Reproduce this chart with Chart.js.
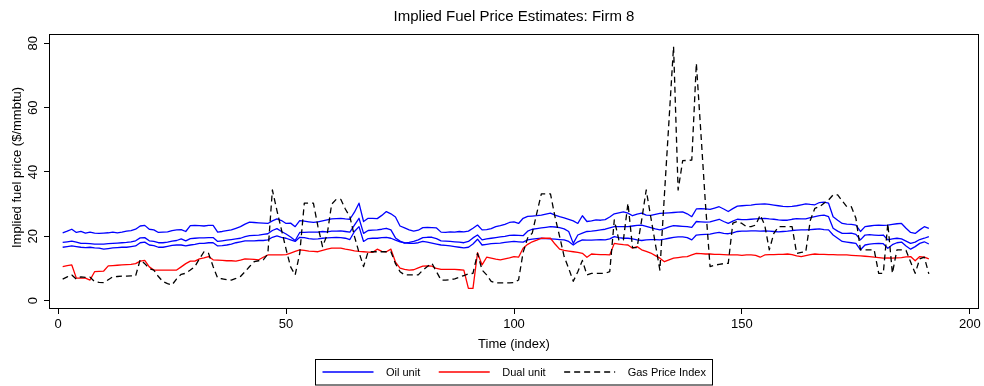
<!DOCTYPE html>
<html>
<head>
<meta charset="utf-8">
<title>Implied Fuel Price Estimates: Firm 8</title>
<script src="https://cdn.jsdelivr.net/npm/chart.js@4.4.1/dist/chart.umd.min.js"></script>
<style>
  html, body { margin: 0; padding: 0; background: #ffffff; }
  #wrap { width: 984px; height: 386px; position: relative; }
</style>
</head>
<body>
<div id="wrap"><canvas id="fuelChart" width="984" height="386"></canvas></div>
<script>
// ---- data -------------------------------------------------------------
const timeIndex = Array.from({ length: 191 }, (_, k) => k + 1);

// three oil-unit estimates (upper, middle, lower)
const oilUnitUpper = [
  21.1, 21.6, 22.2, 21.2, 21.5, 21.0, 21.3, 21.0, 20.9, 21.0,
  21.1, 21.3, 21.1, 21.3, 21.6, 21.8, 22.2, 23.2, 23.4, 22.2,
  22.0, 21.2, 21.3, 21.4, 21.8, 22.0, 22.1, 21.5, 23.3, 23.4,
  23.3, 23.2, 23.4, 23.4, 21.3, 21.5, 21.8, 22.0, 22.5, 23.0,
  23.8, 24.4, 24.3, 24.2, 24.1, 24.0, 24.8, 25.4, 24.9, 24.0,
  24.1, 23.0, 24.9, 24.7, 24.5, 24.3, 24.5, 24.8, 25.1, 25.4,
  25.5, 25.6, 25.4, 25.3, 27.5, 30.3, 24.6, 25.6, 25.6, 25.5,
  26.5, 27.7, 27.0, 26.0, 23.2, 22.6, 22.0, 21.6, 21.9, 22.7,
  22.8, 22.7, 22.6, 21.3, 21.2, 21.4, 21.3, 21.5, 21.4, 21.6,
  22.5, 23.5, 22.0, 22.1, 22.4, 23.0, 23.3, 23.7, 24.3, 24.5,
  24.0, 25.6, 26.2, 26.3, 26.4, 26.6, 26.9, 27.2, 26.6, 26.1,
  25.7, 25.3, 24.8, 24.0, 26.4, 24.6, 24.8, 25.1, 25.0, 25.2,
  26.0, 27.0, 27.3, 27.6, 27.2, 26.4, 26.9, 27.2, 26.6, 26.5,
  26.8, 27.1, 27.2, 27.3, 27.4, 27.5, 27.6, 27.0, 26.1, 28.5,
  28.6, 28.5, 28.4, 28.8, 29.2, 28.5, 27.7, 28.6, 29.4, 29.5,
  29.6, 29.7, 29.9, 30.0, 30.1, 29.9, 29.7, 29.5, 29.3, 29.2,
  29.3, 29.5, 29.8, 30.1, 29.9, 29.8, 30.5, 30.6, 30.3, 26.1,
  25.0, 24.0, 23.8, 23.7, 23.5, 21.5, 23.0, 23.2, 23.4, 23.5,
  23.4, 23.5, 23.7, 23.9, 24.0, 22.5, 21.2, 20.9, 22.0, 23.0, 22.5
];
const oilUnitMiddle = [
  18.1, 18.3, 18.5, 18.2, 17.8, 17.8, 17.7, 17.6, 17.6, 17.6,
  17.7, 17.8, 17.9, 18.0, 18.1, 18.3, 18.6, 19.5, 19.6, 18.6,
  18.4, 18.0, 18.0, 18.2, 18.5, 18.7, 19.2, 18.6, 19.3, 19.4,
  19.5, 19.5, 19.6, 19.6, 18.4, 18.6, 18.8, 19.0, 19.2, 19.4,
  19.9, 20.2, 20.3, 20.4, 20.6, 20.8, 21.8, 22.4, 21.5, 20.7,
  19.8, 18.7, 21.2, 21.2, 21.3, 21.3, 21.3, 21.5, 21.4, 21.6,
  21.6, 21.7, 21.5, 21.3, 23.5, 25.6, 20.9, 21.8, 21.9, 22.0,
  22.2, 22.5, 22.0, 19.5, 18.5, 17.9, 18.1, 18.4, 18.9, 19.6,
  19.7, 19.7, 19.3, 18.6, 18.5, 18.4, 18.3, 18.2, 18.0, 18.4,
  19.5, 20.4, 18.9, 19.2, 19.4, 19.6, 19.8, 20.0, 20.3, 20.4,
  20.3, 20.2, 21.6, 22.2, 22.4, 22.6, 22.8, 23.0, 22.9, 22.7,
  22.3, 21.5, 17.8, 20.4, 21.0, 21.5, 21.6, 21.8, 22.0, 22.2,
  22.6, 23.0, 23.0, 23.0, 23.0, 23.2, 23.4, 23.5, 23.1, 22.7,
  22.3, 22.0, 22.4, 22.9, 23.3, 23.2, 23.1, 23.0, 22.8, 24.6,
  24.5, 24.4, 24.5, 24.9, 25.3, 24.6, 24.0, 24.7, 25.3, 25.2,
  25.2, 25.3, 25.4, 25.5, 25.6, 25.4, 25.3, 25.1, 25.0, 25.0,
  25.3, 25.5, 25.4, 25.4, 25.8, 26.1, 26.4, 26.6, 26.1, 22.5,
  21.6, 20.9, 20.9, 21.0, 20.6, 18.9, 20.4, 20.5, 20.4, 20.3,
  20.4, 18.9, 19.2, 19.4, 19.2, 18.5, 17.8, 18.2, 19.0, 19.4, 19.9
];
const oilUnitLower = [
  16.6, 16.8, 17.0, 16.8, 16.6, 16.5, 16.6, 16.4, 16.3, 16.0,
  16.2, 16.4, 16.5, 16.6, 16.6, 16.8, 17.0, 18.0, 18.2, 17.3,
  17.1, 16.6, 16.6, 16.9, 17.2, 17.3, 17.3, 17.0, 17.3, 17.5,
  17.8, 17.8, 18.0, 18.0, 17.0, 17.1, 17.3, 17.6, 18.0, 18.3,
  18.6, 18.6, 18.6, 18.7, 18.7, 18.9, 19.7, 20.1, 19.7, 19.4,
  18.9, 18.4, 19.7, 19.6, 19.3, 19.1, 19.2, 19.4, 19.5, 19.6,
  19.7, 19.6, 19.4, 19.0, 21.5, 23.0, 18.4, 19.3, 19.4, 19.4,
  19.6, 19.7, 19.4, 18.8, 18.3, 18.0, 17.8, 17.8, 18.0, 18.4,
  18.2, 17.9, 17.6, 17.3, 17.2, 17.0, 16.8, 16.6, 16.4, 16.6,
  17.6, 19.1, 17.3, 17.5, 17.7, 17.8, 17.9, 18.1, 18.3, 18.4,
  18.3, 18.2, 18.9, 19.1, 19.3, 19.4, 19.3, 19.2, 19.1, 19.0,
  18.9, 18.4, 17.3, 18.3, 18.9, 18.8, 18.8, 18.9, 19.0, 18.9,
  19.2, 19.9, 19.6, 19.4, 19.4, 19.2, 18.9, 18.7, 18.9, 19.0,
  19.0, 18.9, 19.1, 19.4, 19.7, 19.8, 19.8, 19.6, 18.9, 20.4,
  20.5, 20.6, 20.7, 21.0, 21.2, 20.9, 20.8, 21.1, 21.5, 21.6,
  21.6, 21.7, 21.7, 21.6, 21.7, 21.6, 21.5, 21.4, 21.5, 21.6,
  21.8, 21.9, 22.0, 22.0, 22.1, 22.2, 22.3, 22.1, 22.0, 20.4,
  19.4, 18.4, 18.2, 18.0, 17.8, 15.8, 17.3, 17.6, 17.7, 17.8,
  17.7, 16.3, 17.4, 18.0, 18.2, 17.0, 16.0, 16.8, 17.8, 18.3, 17.6
];
const dualUnit = [
  10.6, 10.9, 11.1, 7.0, 7.0, 7.0, 6.4, 9.0, 9.1, 9.2,
  10.8, 10.9, 11.0, 11.1, 11.2, 11.3, 11.5, 12.3, 12.5, 10.5,
  9.5, 9.5, 9.5, 9.5, 9.5, 9.5, 10.5, 11.5, 12.3, 12.3,
  13.0, 13.3, 13.7, 12.7, 12.6, 12.5, 12.4, 12.4, 12.3, 12.6,
  13.0, 12.9, 12.8, 12.7, 13.5, 14.2, 14.2, 14.2, 14.2, 14.3,
  14.8, 15.3, 15.8, 15.6, 15.4, 15.3, 15.2, 15.6, 16.0, 16.3,
  16.3, 16.3, 16.0, 15.8, 15.5, 15.3, 15.2, 15.1, 15.0, 16.0,
  15.3, 15.2, 16.0, 12.0, 10.1, 9.7, 9.5, 9.6, 10.2, 10.7,
  10.8, 10.7, 10.0, 9.7, 9.7, 9.7, 9.7, 9.6, 9.5, 3.8,
  3.8, 14.9, 11.1, 13.5, 13.2, 12.9, 12.7, 13.0, 13.3, 13.7,
  13.5, 16.3, 17.5, 18.3, 18.8, 19.4, 19.4, 19.4, 17.6, 16.0,
  15.6, 15.4, 15.2, 15.0, 14.7, 13.5, 14.5, 14.4, 14.3, 14.3,
  14.2, 17.8, 17.6, 17.4, 17.3, 16.3, 16.8, 15.8, 15.3, 14.8,
  14.0, 13.2, 12.1, 12.7, 13.2, 13.4, 13.6, 13.7, 14.2, 14.7,
  14.6, 14.5, 14.5, 14.4, 14.4, 14.3, 14.2, 14.2, 14.2, 14.1,
  14.2, 14.2, 14.1, 13.5, 14.2, 14.3, 14.3, 14.4, 14.4, 14.5,
  14.3, 13.9, 13.7, 14.0, 14.3, 14.5, 14.4, 14.4, 14.3, 14.3,
  14.2, 14.2, 14.2, 14.1, 14.0, 13.9, 13.8, 13.7, 13.5, 13.4,
  13.2, 13.3, 13.2, 13.3, 13.4, 13.6, 13.7, 12.4, 13.7, 13.5, 13.0
];
const gasPriceIndex = [
  6.7, 7.4, 8.0, 6.7, 7.4, 7.2, 7.3, 5.9, 5.7, 5.6,
  6.5, 7.4, 7.5, 7.6, 7.6, 7.7, 7.7, 12.7, 11.5, 10.0,
  9.5, 7.5, 5.9, 5.3, 4.9, 6.8, 8.2, 8.5, 9.5, 10.6,
  13.0, 15.2, 14.7, 10.6, 7.0, 6.8, 6.5, 6.4, 6.9, 7.5,
  9.0, 10.6, 12.1, 12.4, 12.7, 14.5, 34.4, 28.0, 22.0, 16.0,
  10.5, 8.0, 14.7, 30.3, 30.3, 30.3, 23.0, 16.8, 20.4, 30.0,
  31.5, 31.5, 28.5, 26.1, 20.0, 15.0, 10.6, 15.2, 15.2, 15.2,
  15.2, 15.2, 15.2, 11.5, 9.0, 8.0, 8.0, 8.0, 8.0, 9.5,
  10.6, 11.6, 9.0, 6.4, 6.4, 6.5, 6.8, 7.3, 7.8, 8.3,
  8.5, 14.7, 9.5, 8.0, 6.0, 5.5, 5.5, 5.5, 5.5, 5.6,
  6.4, 15.0, 19.5, 21.0, 27.2, 33.2, 33.2, 33.2, 26.0, 20.0,
  13.7, 10.0, 6.0, 9.0, 12.5, 8.0, 8.5, 8.5, 8.5, 8.5,
  9.0, 25.1, 18.9, 18.9, 30.3, 16.5, 16.5, 25.0, 34.4, 26.0,
  17.7, 9.5, 33.0, 56.0, 79.0, 34.4, 43.5, 43.6, 43.7, 73.8,
  52.0, 30.0, 10.6, 11.0, 11.3, 11.5, 11.6, 24.1, 24.6, 24.0,
  23.0, 23.0, 23.5, 26.6, 23.5, 15.8, 20.9, 23.0, 23.0, 23.0,
  23.0, 14.7, 15.0, 15.2, 25.0, 28.7, 29.2, 30.3, 31.3, 32.9,
  32.9, 31.0, 29.2, 29.2, 25.6, 15.8, 15.8, 15.8, 15.8, 8.5,
  8.5, 24.0, 8.5, 15.8, 15.8, 15.6, 12.0, 8.5, 13.0, 13.5, 8.3
];

const xTickValues = [0, 50, 100, 150, 200];
const yTickValues = [0, 20, 40, 60, 80];
const chartTitle = 'Implied Fuel Price Estimates: Firm 8';
const xAxisTitle = 'Time (index)';
const yAxisTitle = 'Implied fuel price ($/mmbtu)';
const legendNames = ['Oil unit', 'Dual unit', 'Gas Price Index'];

// ---- styling ----------------------------------------------------------
const FONT = '"Liberation Sans", Arial, Helvetica, sans-serif';
const OIL_COLOR = '#0000ff';
const DUAL_COLOR = '#ff0000';
const GAS_COLOR = '#000000';
const GAS_DASH = [6, 4];

const toPoints = arr => timeIndex.map((t, k) => ({ x: t, y: arr[k] }));

const lineStyle = (color, width) => ({
  borderColor: color,
  backgroundColor: color,
  borderWidth: width,
  pointRadius: 0,
  pointHoverRadius: 0,
  tension: 0,
  fill: false,
  borderJoinStyle: 'round',
  borderCapStyle: 'butt'
});

const datasets = [
  { label: legendNames[2], data: toPoints(gasPriceIndex), ...lineStyle(GAS_COLOR, 1.3), borderDash: GAS_DASH, order: 0, legendGroup: 2 },
  { label: legendNames[1], data: toPoints(dualUnit), ...lineStyle(DUAL_COLOR, 1.3), order: 1, legendGroup: 1 },
  { label: legendNames[0], data: toPoints(oilUnitUpper), ...lineStyle(OIL_COLOR, 1.3), order: 2, legendGroup: 0 },
  { label: legendNames[0], data: toPoints(oilUnitMiddle), ...lineStyle(OIL_COLOR, 1.3), order: 2 },
  { label: legendNames[0], data: toPoints(oilUnitLower), ...lineStyle(OIL_COLOR, 1.3), order: 2 }
];

// ---- frame, text and legend -------------------------------------------
const decorations = {
  id: 'decorations',
  afterDraw(chart) {
    const { ctx, chartArea: a, scales: { x, y } } = chart;
    ctx.save();

    // plot region box
    ctx.strokeStyle = '#000';
    ctx.lineWidth = 1;
    ctx.strokeRect(Math.round(a.left) + 0.5, Math.round(a.top) + 0.5,
                   Math.round(a.right - a.left) - 1, Math.round(a.bottom - a.top) - 1);

    ctx.fillStyle = '#000';

    // title
    ctx.font = '15px ' + FONT;
    ctx.textAlign = 'center';
    ctx.textBaseline = 'alphabetic';
    ctx.fillText(chartTitle, (a.left + a.right) / 2, 20.5);

    // x tick labels
    ctx.font = '13px ' + FONT;
    xTickValues.forEach(v => {
      ctx.fillText(String(v), x.getPixelForValue(v), 328);
    });

    // x axis title
    ctx.fillText(xAxisTitle, (a.left + a.right) / 2, 348);

    // y tick labels, rotated
    yTickValues.forEach(v => {
      ctx.save();
      ctx.translate(36.5, y.getPixelForValue(v));
      ctx.rotate(-Math.PI / 2);
      ctx.textAlign = 'center';
      ctx.fillText(String(v), 0, 0);
      ctx.restore();
    });

    // y axis title, rotated
    ctx.save();
    ctx.translate(21, 167.5);
    ctx.rotate(-Math.PI / 2);
    ctx.textAlign = 'center';
    ctx.fillText(yAxisTitle, 0, 0);
    ctx.restore();

    // legend
    const entries = chart.data.datasets
      .filter(d => d.legendGroup !== undefined)
      .sort((p, q) => p.legendGroup - q.legendGroup);
    ctx.font = '11px ' + FONT;
    const sampleW = 51, padL = 7, padR = 7, gapText = 12.5, gapItem = 18.5;
    const widths = entries.map(d => ctx.measureText(d.label).width);
    let total = padL + padR + entries.length * (sampleW + gapText) + (entries.length - 1) * gapItem;
    widths.forEach(w => { total += w; });
    const boxTop = 359.5, boxH = 25.5;
    const boxLeft = Math.round((a.left + a.right) / 2 - total / 2) + 0.5;
    ctx.strokeStyle = '#000';
    ctx.lineWidth = 1;
    ctx.strokeRect(boxLeft, boxTop, Math.round(total), boxH);
    const midY = 372;
    let cx = boxLeft + padL;
    entries.forEach((d, k) => {
      ctx.save();
      ctx.strokeStyle = d.borderColor;
      ctx.lineWidth = d.borderWidth;
      ctx.setLineDash(d.borderDash || []);
      ctx.beginPath();
      ctx.moveTo(cx, midY);
      ctx.lineTo(cx + sampleW, midY);
      ctx.stroke();
      ctx.restore();
      cx += sampleW + gapText;
      ctx.textAlign = 'left';
      ctx.textBaseline = 'alphabetic';
      ctx.fillStyle = '#000';
      ctx.fillText(d.label, cx, 376);
      cx += widths[k] + gapItem;
    });

    ctx.restore();
  }
};

new Chart(document.getElementById('fuelChart'), {
  type: 'line',
  data: { datasets },
  options: {
    responsive: false,
    animation: false,
    devicePixelRatio: 1,
    events: [],
    layout: { padding: { top: 34, right: 5, left: 0, bottom: 0 } },
    plugins: {
      legend: { display: false },
      title: { display: false },
      tooltip: { enabled: false }
    },
    scales: {
      x: {
        type: 'linear',
        min: -2,
        max: 202,
        afterBuildTicks: s => { s.ticks = xTickValues.map(v => ({ value: v })); },
        afterFit: s => { s.height = 77; },
        ticks: { display: false },
        border: { display: false },
        grid: { display: true, drawOnChartArea: false, drawTicks: true, tickLength: 5, color: '#000', lineWidth: 1 }
      },
      y: {
        type: 'linear',
        min: -2.6,
        max: 82.9,
        afterBuildTicks: s => { s.ticks = yTickValues.map(v => ({ value: v })); },
        afterFit: s => { s.width = 49; },
        ticks: { display: false },
        border: { display: false },
        grid: { display: true, drawOnChartArea: false, drawTicks: true, tickLength: 5, color: '#000', lineWidth: 1 }
      }
    }
  },
  plugins: [decorations]
});
</script>
</body>
</html>
